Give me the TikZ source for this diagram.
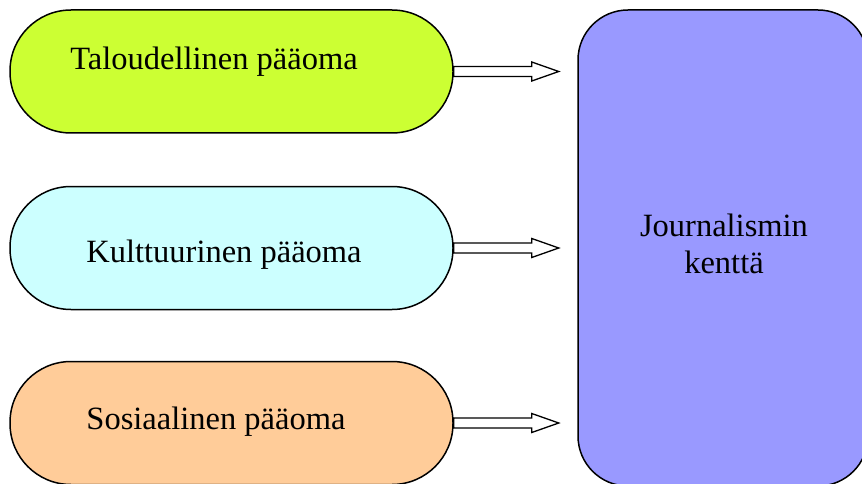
\documentclass[tikz,border=0pt]{standalone}
\usepackage{fontspec}
\setmainfont{Liberation Serif}
\definecolor{talgreen}{HTML}{CCFF33}
\definecolor{kulcyan}{HTML}{CCFFFF}
\definecolor{sosorange}{HTML}{FFCC99}
\definecolor{jourpurple}{HTML}{9999FF}
\begin{document}
\begin{tikzpicture}[x=1pt,y=-1pt,
  pill/.style={draw=black, line width=1.5pt, rounded corners=61pt, minimum width=443pt, minimum height=123pt, inner sep=0pt},
  field/.style={draw=black, line width=1.5pt, rounded corners=50pt, minimum width=290pt, minimum height=476pt, inner sep=0pt},
  lbl/.style={font=\fontsize{32.5}{37}\selectfont, anchor=base, inner sep=0pt},
  hollow/.style={draw=black, fill=white, line width=1.3pt, line join=miter}]
\useasboundingbox (0,0) rectangle (862,484);
\begin{scope}
\clip (0,0) rectangle (862,484);
\node[field, fill=jourpurple] (jk) at (723,248) {};
\node[pill, fill=talgreen] (tal) at (231.5,71.5) {};
\node[pill, fill=kulcyan] (kul) at (231.5,248) {};
\node[pill, fill=sosorange] (sos) at (231.5,423) {};
\end{scope}
\node[lbl] (taltext) at (214,70) {Taloudellinen pääoma};
\node[lbl] (kultext) at (224,262) {Kulttuurinen pääoma};
\node[lbl] (sostext) at (216,429) {Sosiaalinen pääoma};
\node[lbl] (jktext1) at (724,236) {Journalismin};
\node[lbl] (jktext2) at (724,273) {kenttä};
\foreach \n in {tal,kul,sos}{
  \draw[hollow] (\n.east) ++(0,-5) -- ++(78,0) -- ++(0,-4.5) -- ++(27,9.5) -- ++(-27,9.5) -- ++(0,-4.5) -- ++(-78,0) -- cycle;
}
\end{tikzpicture}
\end{document}
